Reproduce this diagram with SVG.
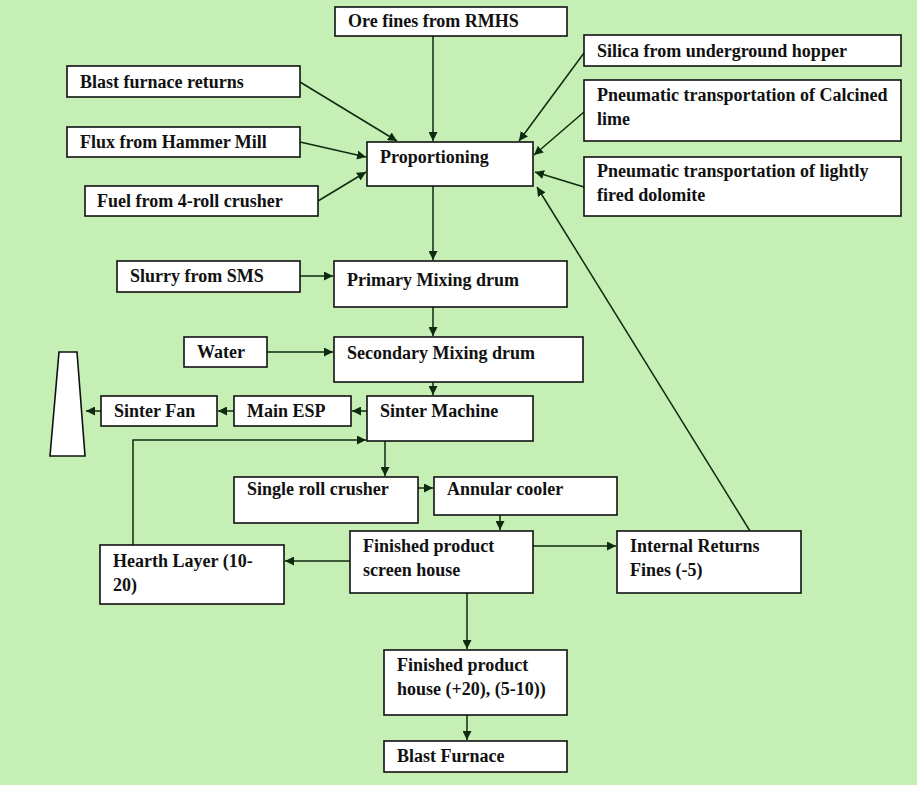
<svg xmlns="http://www.w3.org/2000/svg" width="917" height="785" viewBox="0 0 917 785">
<style>
.b{fill:#fff;stroke:#111;stroke-width:1.6}
.t{font-family:"Liberation Serif","Times New Roman",serif;font-weight:bold;font-size:18px;fill:#111}
.c{stroke:#0f2a0f;stroke-width:1.5;fill:none}
</style>
<defs>
<marker id="a" viewBox="0 0 10 10" refX="10" refY="5" markerWidth="9" markerHeight="9" markerUnits="userSpaceOnUse" orient="auto">
<path d="M0,0 L10,5 L0,10 z" fill="#0f2a0f"/>
</marker>
</defs>
<rect width="917" height="785" fill="#c5efb5"/>
<g id="connectors" class="c" marker-end="url(#a)">
<line x1="433" y1="36" x2="433" y2="141"/>
<line x1="300" y1="82" x2="397" y2="141"/>
<line x1="300" y1="142" x2="366" y2="157"/>
<line x1="318" y1="201" x2="366" y2="172"/>
<line x1="584" y1="53" x2="519" y2="141"/>
<line x1="584" y1="112" x2="534" y2="155"/>
<line x1="584" y1="187" x2="535" y2="172"/>
<line x1="750" y1="531" x2="537" y2="187"/>
<line x1="433" y1="186" x2="433" y2="260"/>
<line x1="300" y1="276" x2="333" y2="276"/>
<line x1="433" y1="307" x2="433" y2="336"/>
<line x1="267" y1="352" x2="333" y2="352"/>
<line x1="433" y1="382" x2="433" y2="395"/>
<line x1="367" y1="411" x2="352" y2="411"/>
<line x1="234" y1="411" x2="218" y2="411"/>
<line x1="101" y1="411" x2="86" y2="411"/>
<line x1="385" y1="441" x2="385" y2="476"/>
<line x1="418" y1="488" x2="433" y2="488"/>
<line x1="500" y1="515" x2="500" y2="530"/>
<line x1="350" y1="561" x2="285" y2="561"/>
<line x1="533" y1="546" x2="616" y2="546"/>
<polyline points="133,545 133,440 366,440"/>
<line x1="467" y1="593" x2="467" y2="649"/>
<line x1="467" y1="715" x2="467" y2="740"/>
</g>
<g id="chimney"><polygon points="59,352 77,352 85,456 50,456" class="b"/></g>
<g id="ore"><rect class="b" x="335" y="7" width="232" height="29"/><text class="t" x="348" y="27">Ore fines from RMHS</text></g>
<g id="bfr"><rect class="b" x="67" y="66" width="233" height="31"/><text class="t" x="80" y="88">Blast furnace returns</text></g>
<g id="flux"><rect class="b" x="67" y="127" width="233" height="30"/><text class="t" x="80" y="148">Flux from Hammer Mill</text></g>
<g id="fuel"><rect class="b" x="85" y="186" width="233" height="30"/><text class="t" x="97" y="207">Fuel from 4-roll crusher</text></g>
<g id="prop"><rect class="b" x="367" y="142" width="166" height="44"/><text class="t" x="380" y="163">Proportioning</text></g>
<g id="silica"><rect class="b" x="584" y="35" width="317" height="31"/><text class="t" x="597" y="57">Silica from underground hopper</text></g>
<g id="lime"><rect class="b" x="584" y="80" width="317" height="61"/><text class="t" x="597" y="101">Pneumatic transportation of Calcined</text><text class="t" x="597" y="125">lime</text></g>
<g id="dolo"><rect class="b" x="584" y="157" width="317" height="59"/><text class="t" x="597" y="177">Pneumatic transportation of lightly</text><text class="t" x="597" y="201">fired dolomite</text></g>
<g id="slurry"><rect class="b" x="117" y="261" width="183" height="31"/><text class="t" x="130" y="282">Slurry from SMS</text></g>
<g id="primary"><rect class="b" x="334" y="261" width="233" height="46"/><text class="t" x="347" y="286">Primary Mixing drum</text></g>
<g id="water"><rect class="b" x="184" y="337" width="83" height="30"/><text class="t" x="197" y="358">Water</text></g>
<g id="secondary"><rect class="b" x="334" y="337" width="249" height="45"/><text class="t" x="347" y="359">Secondary Mixing drum</text></g>
<g id="fan"><rect class="b" x="101" y="396" width="116" height="30"/><text class="t" x="114" y="417">Sinter Fan</text></g>
<g id="esp"><rect class="b" x="234" y="396" width="117" height="30"/><text class="t" x="247" y="417">Main ESP</text></g>
<g id="sinter"><rect class="b" x="367" y="396" width="166" height="45"/><text class="t" x="380" y="417">Sinter Machine</text></g>
<g id="crusher"><rect class="b" x="234" y="477" width="184" height="46"/><text class="t" x="247" y="495">Single roll crusher</text></g>
<g id="cooler"><rect class="b" x="434" y="477" width="183" height="38"/><text class="t" x="447" y="495">Annular cooler</text></g>
<g id="screen"><rect class="b" x="350" y="531" width="183" height="62"/><text class="t" x="363" y="552">Finished product</text><text class="t" x="363" y="576">screen  house</text></g>
<g id="hearth"><rect class="b" x="100" y="545" width="184" height="59"/><text class="t" x="113" y="567">Hearth  Layer (10-</text><text class="t" x="113" y="591">20)</text></g>
<g id="returns"><rect class="b" x="617" y="531" width="184" height="62"/><text class="t" x="630" y="552">Internal Returns</text><text class="t" x="630" y="576">Fines (-5)</text></g>
<g id="fph"><rect class="b" x="384" y="650" width="183" height="65"/><text class="t" x="397" y="671">Finished product</text><text class="t" x="397" y="695">house (+20), (5-10))</text></g>
<g id="bf"><rect class="b" x="384" y="741" width="183" height="31"/><text class="t" x="397" y="762">Blast Furnace</text></g>
</svg>
